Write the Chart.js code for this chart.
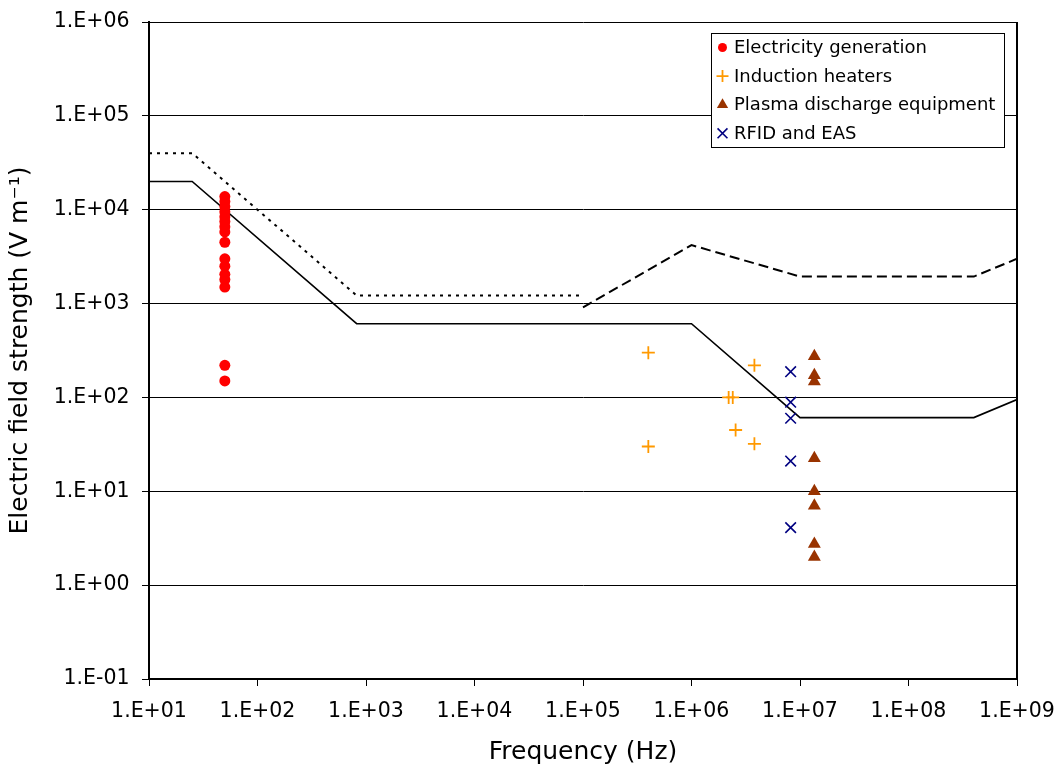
<!DOCTYPE html>
<html>
<head>
<meta charset="utf-8">
<script src="https://cdn.jsdelivr.net/npm/chart.js@4.4.1/dist/chart.umd.min.js"></script>
<style>
    body { margin: 0; background: #fff; }
    #wrap { width: 1059px; height: 764px; }
</style>
</head>
<body>
<div id="wrap"><canvas id="grafica" width="1059" height="764"></canvas></div>
<script>
// decadas de los ejes
var xTicks = [1e1, 1e2, 1e3, 1e4, 1e5, 1e6, 1e7, 1e8, 1e9];
var yTicks = [1e-1, 1e0, 1e1, 1e2, 1e3, 1e4, 1e5, 1e6];

// mediciones (frecuencia en Hz, campo en V/m)
var elecFreq = [50, 50, 50, 50, 50, 50, 50, 50, 50, 50, 50, 50, 50, 50, 50, 50];
var elecValues = [13800, 12200, 10800, 9500, 8400, 7500, 6600, 5800, 4500, 3000, 2500, 2050, 1800, 1500, 220, 150];

var indFreq = [4e5, 4e5, 2.2e6, 2.4e6, 2.55e6, 3.8e6, 3.8e6];
var indValues = [300, 30, 100, 100, 45, 220, 32];

var plasmaFreq = [13.56e6, 13.56e6, 13.56e6, 13.56e6, 13.56e6, 13.56e6, 13.56e6, 13.56e6];
var plasmaValues = [275, 172, 148, 22.5, 10, 7, 2.75, 2.0];

var rfidFreq = [8.2e6, 8.2e6, 8.2e6, 8.2e6, 8.2e6];
var rfidValues = [188, 89, 60, 21, 4.1];

// curvas de referencia
var solidFreq = [10, 25, 820, 1e6, 1e7, 4e8, 1e9];
var solidValues = [20000, 20000, 610, 610, 61, 61, 95];

var dottedFreq = [10, 25, 820, 1e5];
var dottedValues = [40000, 40000, 1220, 1220];

var dashedFreq = [1e5, 1e6, 1e7, 4e8, 1e9];
var dashedValues = [910, 4200, 1940, 1940, 3000];

function puntos(xs, ys) {
    return xs.map(function (x, i) { return { x: x, y: ys[i] }; });
}

// formato tipo Excel: 1.E+06
function etiqueta(v) {
    var e = Math.round(Math.log10(v));
    var s = e < 0 ? '-' : '+';
    var n = Math.abs(e);
    return '1.E' + s + (n < 10 ? '0' + n : n);
}

var fuente = '"DejaVu Sans", Verdana, sans-serif';

// leyenda dibujada dentro del area del grafico
var leyenda = {
    id: 'leyenda',
    afterDraw: function (chart) {
        var ctx = chart.ctx;
        ctx.save();
        ctx.fillStyle = '#fff';
        ctx.fillRect(711.5, 33.5, 293, 114);
        ctx.strokeStyle = '#000';
        ctx.lineWidth = 1;
        ctx.strokeRect(711.5, 33.5, 293, 114);
        var fila = 0;
        chart.data.datasets.forEach(function (ds) {
            if (!ds.label) return;
            var y = 47.5 + fila * 28.6;
            ctx.fillStyle = ds.backgroundColor;
            ctx.strokeStyle = ds.borderColor;
            ctx.lineWidth = ds.borderWidth;
            Chart.helpers.drawPoint(ctx, { pointStyle: ds.pointStyle, radius: ds.legendRadius, rotation: 0, borderWidth: ds.borderWidth }, 722.5, y);
            ctx.fillStyle = '#000';
            ctx.font = '18px ' + fuente;
            ctx.textAlign = 'left';
            ctx.textBaseline = 'middle';
            ctx.fillText(ds.label, 734, y + 1);
            fila++;
        });
        // borde derecho del area
        var a = chart.chartArea;
        ctx.strokeStyle = '#000';
        ctx.lineWidth = 2;
        ctx.beginPath();
        ctx.moveTo(a.right, a.top);
        ctx.lineTo(a.right, a.bottom);
        ctx.stroke();
        ctx.restore();
    }
};

var ctx = document.getElementById('grafica').getContext('2d');
var grafica = new Chart(ctx, {
    type: 'scatter',
    data: {
        datasets: [
            {
                label: 'Electricity generation',
                data: puntos(elecFreq, elecValues),
                pointStyle: 'circle', pointRadius: 5.5, legendRadius: 4.5,
                backgroundColor: '#FF0000', borderColor: '#FF0000', borderWidth: 0
            },
            {
                label: 'Induction heaters',
                data: puntos(indFreq, indValues),
                pointStyle: 'cross', pointRadius: 6.5, legendRadius: 6,
                backgroundColor: '#FF9900', borderColor: '#FF9900', borderWidth: 1.8
            },
            {
                label: 'Plasma discharge equipment',
                data: puntos(plasmaFreq, plasmaValues),
                pointStyle: 'triangle', pointRadius: 7.5, legendRadius: 6.5,
                backgroundColor: '#993300', borderColor: '#993300', borderWidth: 0
            },
            {
                label: 'RFID and EAS',
                data: puntos(rfidFreq, rfidValues),
                pointStyle: 'crossRot', pointRadius: 7.5, legendRadius: 7,
                backgroundColor: '#000080', borderColor: '#000080', borderWidth: 1.6
            },
            {
                data: puntos(solidFreq, solidValues),
                showLine: true, pointRadius: 0,
                borderColor: '#000', borderWidth: 1.6, tension: 0
            },
            {
                data: puntos(dottedFreq, dottedValues),
                showLine: true, pointRadius: 0,
                borderColor: '#000', borderWidth: 2, borderDash: [3, 5], tension: 0
            },
            {
                data: puntos(dashedFreq, dashedValues),
                showLine: true, pointRadius: 0,
                borderColor: '#000', borderWidth: 2, borderDash: [10, 5], tension: 0
            }
        ]
    },
    options: {
        responsive: false,
        animation: false,
        layout: { padding: { top: 22, right: 42, left: 0, bottom: 0 } },
        plugins: {
            legend: { display: false },
            tooltip: { enabled: false }
        },
        scales: {
            x: {
                type: 'logarithmic',
                min: 1e1,
                max: 1e9,
                afterBuildTicks: function (scale) {
                    scale.ticks = xTicks.map(function (v) { return { value: v }; });
                },
                afterFit: function (scale) {
                    scale.height = 85;
                    scale.paddingLeft = 0;
                    scale.paddingRight = 0;
                },
                grid: { display: true, drawOnChartArea: false, tickLength: 7, tickColor: '#000', tickWidth: 1 },
                border: { display: true, color: '#000', width: 2 },
                ticks: {
                    autoSkip: false, maxRotation: 0, padding: 13, color: '#000',
                    font: { family: fuente, size: 20.5 },
                    callback: function (v) { return etiqueta(v); }
                },
                title: {
                    display: true, text: 'Frequency (Hz)', color: '#000',
                    font: { family: fuente, size: 25, lineHeight: 0.9 },
                    padding: { top: 0, bottom: 0 }
                }
            },
            y: {
                type: 'logarithmic',
                min: 1e-1,
                max: 1e6,
                afterBuildTicks: function (scale) {
                    scale.ticks = yTicks.map(function (v) { return { value: v }; });
                },
                afterFit: function (scale) {
                    scale.width = 149;
                    scale.paddingTop = 0;
                    scale.paddingBottom = 0;
                },
                grid: { display: true, color: '#000', lineWidth: 1, tickLength: 7, tickColor: '#000' },
                border: { display: true, color: '#000', width: 2 },
                ticks: {
                    autoSkip: false, padding: 12.5, color: '#000',
                    font: { family: fuente, size: 20.5 },
                    callback: function (v) { return etiqueta(v); }
                },
                title: {
                    display: true, text: 'Electric field strength (V m\u207B\u00B9)', color: '#000',
                    font: { family: fuente, size: 25, lineHeight: 0.9 },
                    padding: { top: 9, bottom: 0 }
                }
            }
        }
    },
    plugins: [leyenda]
});
</script>
</body>
</html>
